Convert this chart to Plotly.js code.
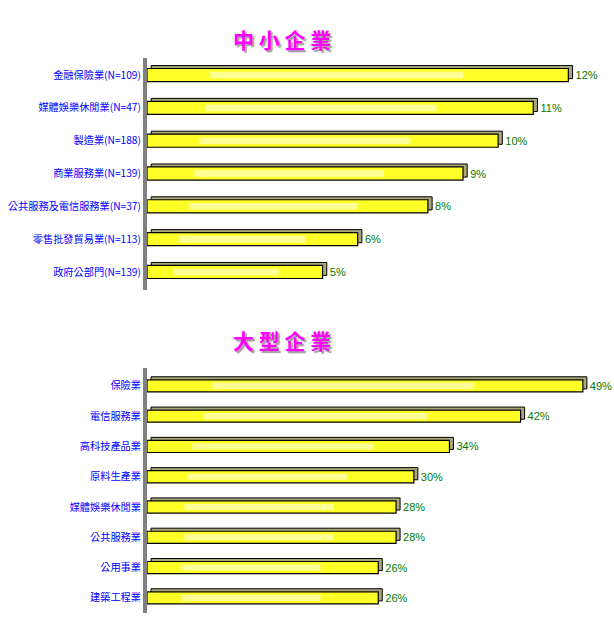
<!DOCTYPE html>
<html>
<head>
<meta charset="utf-8">
<script src="https://cdn.plot.ly/plotly-3.0.1.min.js"></script>
<style>
  body { margin: 0; background: #fff; }
  #chart { width: 614px; height: 623px; }
</style>
</head>
<body>
<div id="chart"></div>
<script>
// 中小企業
const smeLabels = ['金融保險業(N=109)', '媒體娛樂休閒業(N=47)', '製造業(N=188)', '商業服務業(N=139)',
  '公共服務及電信服務業(N=37)', '零售批發貿易業(N=113)', '政府公部門(N=139)'];
const smeValues = [12, 11, 10, 9, 8, 6, 5];

// 大型企業
const bigLabels = ['保險業', '電信服務業', '高科技產品業', '原料生產業', '媒體娛樂休閒業', '公共服務業', '公用事業', '建築工程業'];
const bigValues = [49, 42, 34, 30, 28, 28, 26, 26];

const labelFont = { family: 'Noto Sans CJK TC', size: 10.2, color: '#0000ff' };
const valueFont = { family: 'Liberation Sans', size: 11, color: '#007a00' };

// back block gives the 3D top/side faces, front bar sits on it, shine fakes the gradient
function barSet(labels, values, xa, ya, depth, lift) {
  const back = {
    type: 'bar', orientation: 'h', y: labels, x: values,
    base: values.map(() => depth),
    width: 0.4, offset: -0.2 - lift,
    marker: { color: '#a8a87a', line: { color: '#000', width: 1 } },
    xaxis: xa, yaxis: ya, hoverinfo: 'skip'
  };
  const front = {
    type: 'bar', orientation: 'h', y: labels, x: values,
    width: 0.4, offset: -0.2,
    marker: { color: '#ffff28', line: { color: '#000', width: 1.2 } },
    xaxis: xa, yaxis: ya
  };
  const shine = {
    type: 'bar', orientation: 'h', y: labels, x: values.map(v => v * 0.6),
    base: values.map(v => v * 0.15),
    width: 0.2, offset: -0.1,
    marker: { color: 'rgba(255,255,225,0.6)', line: { width: 0 } },
    xaxis: xa, yaxis: ya, hoverinfo: 'skip'
  };
  const labelsTrace = {
    type: 'bar', orientation: 'h', y: labels, x: values.map(v => v + depth),
    width: 0.4, offset: -0.2,
    marker: { color: 'rgba(0,0,0,0)', line: { width: 0 } },
    text: values.map(v => v + '%'), textposition: 'outside', textfont: valueFont,
    constraintext: 'none', cliponaxis: false,
    xaxis: xa, yaxis: ya, hoverinfo: 'skip'
  };
  return [back, front, shine, labelsTrace];
}

const data = [
  ...barSet(smeLabels, smeValues, 'x', 'y', 0.12, 0.09),
  ...barSet(bigLabels, bigValues, 'x2', 'y2', 0.45, 0.1)
];

const hiddenX = { showgrid: false, zeroline: false, showticklabels: false, showline: false, fixedrange: true };
const catY = {
  type: 'category', showgrid: false, zeroline: false, showline: true,
  linecolor: '#808080', linewidth: 4, ticks: '', tickfont: labelFont, ticklabelstandoff: 0
};

const titleFont = { family: 'Noto Sans CJK TC', size: 21, color: '#ff00ff', weight: 'bold', shadow: '2px 2px 1px #a0a0a0' };

const layout = {
  width: 614, height: 623,
  margin: { l: 0, r: 0, t: 0, b: 0 },
  paper_bgcolor: '#fff', plot_bgcolor: '#fff',
  showlegend: false, barmode: 'overlay',
  xaxis: { ...hiddenX, domain: [147 / 614, 1], range: [0, 13.3], anchor: 'y' },
  yaxis: { ...catY, domain: [1 - 290 / 623, 1 - 58 / 623], range: [6.55, -0.52], anchor: 'x' },
  xaxis2: { ...hiddenX, domain: [147 / 614, 1], range: [0, 52.5], anchor: 'y2' },
  yaxis2: { ...catY, domain: [1 - 613 / 623, 1 - 368 / 623], range: [7.5, -0.59], anchor: 'x2' },
  annotations: [
    { text: '中 小 企 業', xref: 'paper', yref: 'paper', x: 282 / 614, y: 1 - 22 / 623,
      showarrow: false, font: titleFont },
    { text: '大 型 企 業', xref: 'paper', yref: 'paper', x: 282 / 614, y: 1 - 340 / 623,
      showarrow: false, font: titleFont }
  ]
};

Plotly.newPlot('chart', data, layout, { displayModeBar: false, staticPlot: true });
</script>
</body>
</html>
